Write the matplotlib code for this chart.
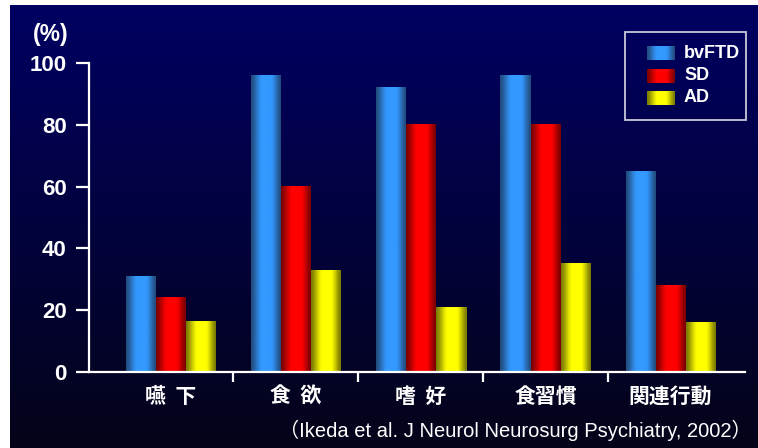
import numpy as np
import matplotlib
matplotlib.use("Agg")
import matplotlib.pyplot as plt
from matplotlib.patches import Rectangle

categories = ["嚥  下", "食  欲", "嗜  好", "食習慣", "関連行動"]
series_names = ["bvFTD", "SD", "AD"]
bvftd = [31, 96, 92, 96, 65]
sd = [24, 60, 80, 80, 28]
ad = [16.5, 33, 21, 35, 16]
yticks = [0, 20, 40, 60, 80, 100]
citation = "（Ikeda et al. J Neurol Neurosurg Psychiatry, 2002）"

colors = [(0x33/255, 0x99/255, 1.0), (1.0, 0.0, 0.0), (1.0, 1.0, 0.0)]
edge_dark = [(0x22/255, 0x4c/255, 0x7e/255), (0x7a/255, 0, 0), (0x7a/255, 0x7a/255, 0)]

W, H = 758, 448
fig = plt.figure(figsize=(W/100, H/100), dpi=100)
fig.patch.set_facecolor("white")

# background axes in pixel coordinates
bg = fig.add_axes([0, 0, 1, 1])
bg.set_xlim(0, W)
bg.set_ylim(H, 0)
bg.axis("off")
top = np.array([0x00, 0x00, 0x62]) / 255
bot = np.array([0x04, 0x04, 0x19]) / 255
t = np.linspace(0, 1, 256)[:, None]
grad = top[None, :] * (1 - t) + bot[None, :] * t
grad = grad[:, None, :]
bg.imshow(grad, extent=[10, W, H, 5], aspect="auto", zorder=0, interpolation="bilinear")


def gradient_img(color, dark, n=64):
    x = np.linspace(0, 1, n)
    left = np.clip(x / 0.36, 0, 1)
    right = np.clip((1 - x) / 0.32, 0, 1)
    f = np.minimum(left, right)
    f = f * f * (3 - 2 * f) * 0.5 + f * 0.5
    c = np.array(color)
    d = np.array(dark)
    img = d[None, :] * (1 - f[:, None]) + c[None, :] * f[:, None]
    return img[None, :, :]


ax_left, ax_right, ax_bot, ax_top = 89, 745, 372, 63
ax = fig.add_axes([ax_left / W, (H - ax_bot) / H, (ax_right - ax_left) / W, (ax_bot - ax_top) / H])
ax.patch.set_alpha(0)

x = np.arange(len(categories))
bw = 0.24
all_series = [bvftd, sd, ad]
for i, vals in enumerate(all_series):
    bars = ax.bar(x + (i - 1) * bw, vals, width=bw, color="none", edgecolor="none")
    img = gradient_img(colors[i], edge_dark[i])
    for b in bars:
        x0 = b.get_x()
        ax.imshow(img, extent=[x0, x0 + b.get_width(), 0, b.get_height()],
                  aspect="auto", zorder=2, interpolation="bilinear")
ax.set_xlim(-0.652, 4.596)
ax.set_ylim(0, 100)

for s in ["top", "right"]:
    ax.spines[s].set_visible(False)
for s in ["left", "bottom"]:
    ax.spines[s].set_color("white")
    ax.spines[s].set_linewidth(1.6)
    ax.spines[s].set_zorder(5)

ax.set_yticks(yticks)
ax.set_yticklabels([str(v) for v in yticks], fontsize=16, fontweight="bold",
                   color="white", family=["Liberation Sans", "DejaVu Sans"])
ax.tick_params(axis="y", direction="out", length=9.5, width=1.6, color="white", pad=6.5)

ax.set_xticks(x)
ax.set_xticklabels(categories, fontsize=15, fontweight="bold", color="white",
                   family=["Noto Sans CJK JP", "DejaVu Sans"])
ax.tick_params(axis="x", which="major", length=0, pad=10)
ax.set_xticks(x[:-1] + 0.5, minor=True)
ax.tick_params(axis="x", which="minor", direction="out", length=7.5, width=1.6, color="white")

# (%) label
bg.text(51, 35, "(%)", ha="center", va="center", fontsize=16.5, fontweight="bold",
        color="white", family=["Liberation Sans", "DejaVu Sans"], zorder=6)

# legend
bg.add_patch(Rectangle((625, 32), 121, 88, facecolor="none", edgecolor="#c8c8d8",
                       linewidth=1.3, zorder=6))
row_y = [53, 76, 98]
for i, name in enumerate(series_names):
    img = gradient_img(colors[i], edge_dark[i])
    bg.imshow(img, extent=[647, 675, row_y[i] + 7, row_y[i] - 7], aspect="auto",
              zorder=6, interpolation="bilinear")
    bg.text(684, row_y[i], name, ha="left", va="center", fontsize=13, fontweight="bold",
            color="white", family=["Liberation Sans", "DejaVu Sans"], zorder=7)

bg.text(752, 430, citation, ha="right", va="center", fontsize=14.5, color="white",
        family=["Liberation Sans", "Noto Sans CJK JP"], zorder=7)

bg.set_xlim(0, W)
bg.set_ylim(H, 0)
fig.savefig("out.png", dpi=100, facecolor="white")
